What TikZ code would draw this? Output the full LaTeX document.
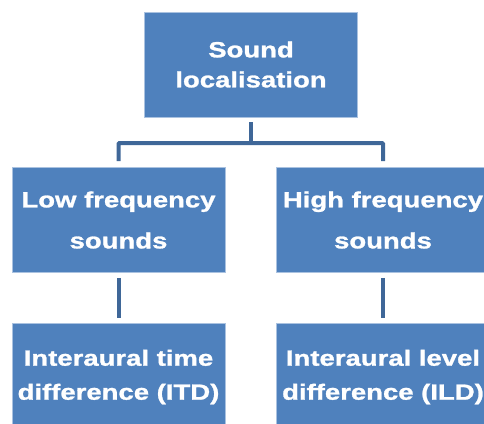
\documentclass[tikz,border=0pt]{standalone}
\usepackage{fontspec}
\newfontfamily\boxfont{Liberation Sans}[FakeStretch=1.25, FakeBold=1.2]
\definecolor{boxblue}{RGB}{79,129,189}
\definecolor{linkblue}{RGB}{63,103,152}
\definecolor{edgeblue}{RGB}{170,194,224}
\tikzset{
  topic/.style={rectangle, fill=boxblue, draw=edgeblue, line width=0.8pt,
    minimum width=213pt, minimum height=105pt, inner sep=0pt,
    text=white, align=center},
  link/.style={linkblue, line width=4pt}
}
\begin{document}
\begin{tikzpicture}[x=1pt, y=-1pt]
  \useasboundingbox (0,0) rectangle (484,423);
  \clip (0,0) rectangle (484,423); % right and lower boxes run off the page
  \node[topic, font=\boxfont\bfseries\fontsize{22}{30}\selectfont] (sound) at (251,64.5) {Sound\\localisation};
  \node[topic, font=\boxfont\bfseries\fontsize{22}{41}\selectfont] (low) at (118.5,220) {Low frequency\\sounds};
  \node[topic, font=\boxfont\bfseries\fontsize{22}{41}\selectfont] (high) at (383,220) {High frequency\\sounds};
  \node[topic, font=\boxfont\bfseries\fontsize{22}{34}\selectfont, minimum height=108pt] (itd) at (118.5,377) {Interaural time\\difference (ITD)};
  \node[topic, font=\boxfont\bfseries\fontsize{22}{34}\selectfont, minimum height=108pt] (ild) at (383,377) {Interaural level\\difference (ILD)};
  \coordinate (fork) at (251,143);
  \draw[link, shorten <=5pt] (sound.south) -- (fork);
  \draw[link, shorten <=6pt, shorten >=6pt, rounded corners=1pt] (low.north) |- (fork) -| (high.north);
  \draw[link, shorten <=5pt, shorten >=5pt] (low.south) -- (itd.north);
  \draw[link, shorten <=5pt, shorten >=5pt] (high.south) -- (ild.north);
\end{tikzpicture}
\end{document}
